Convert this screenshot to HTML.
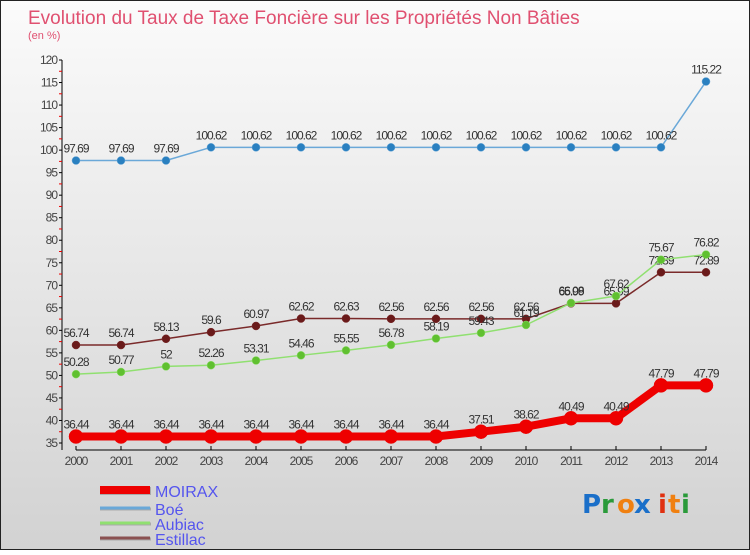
<!DOCTYPE html>
<html><head><meta charset="utf-8"><style>
body{margin:0;width:750px;height:550px;overflow:hidden;font-family:"Liberation Sans",sans-serif}
</style></head><body>
<svg id="chart" width="750" height="550" xmlns="http://www.w3.org/2000/svg">
<defs><linearGradient id="bg" x1="0" y1="0" x2="0" y2="1"><stop offset="0" stop-color="#fbfbfb"/><stop offset="1" stop-color="#d2d2d2"/></linearGradient></defs>
<rect x="0" y="0" width="750" height="550" fill="url(#bg)"/>
<rect x="0.5" y="0.5" width="749" height="549" fill="none" stroke="#222"/>
<text x="28" y="24" font-size="19" fill="#e05070">Evolution du Taux de Taxe Foncière sur les Propriétés Non Bâties</text>
<text x="28" y="39" font-size="11" fill="#e05070">(en %)</text>
<g id="axes"></g><g id="series"></g><g id="legend"></g>
<g font-size="26" font-family="'DejaVu Sans',sans-serif" font-weight="bold">
<text x="582" y="513" fill="#1a6fc9">P</text><text x="601" y="513" fill="#2a9a3a">r</text><text x="617" y="513" fill="#f08010">o</text>
<text x="634" y="513" fill="#1a6fc9">x</text><text x="658" y="513" fill="#e03010">i</text><text x="668" y="513" fill="#f08010">t</text><text x="681" y="513" fill="#2a9a3a">i</text></g>
</svg>
<script>
const years=[2000,2001,2002,2003,2004,2005,2006,2007,2008,2009,2010,2011,2012,2013,2014];
const yTicks=[35,40,45,50,55,60,65,70,75,80,85,90,95,100,105,110,115,120];
const moirax=[36.44,36.44,36.44,36.44,36.44,36.44,36.44,36.44,36.44,37.51,38.62,40.49,40.49,47.79,47.79];
const boe=[97.69,97.69,97.69,100.62,100.62,100.62,100.62,100.62,100.62,100.62,100.62,100.62,100.62,100.62,115.22];
const aubiac=[50.28,50.77,52,52.26,53.31,54.46,55.55,56.78,58.19,59.43,61.19,66.08,67.62,75.67,76.82];
const estillac=[56.74,56.74,58.13,59.6,60.97,62.62,62.63,62.56,62.56,62.56,62.56,65.99,65.99,72.89,72.89];
const NS="http://www.w3.org/2000/svg";
const x=i=>76+i*45;
const y=v=>443-(v-35)*(383/85);
function mk(t,a,p){const e=document.createElementNS(NS,t);for(const k in a)e.setAttribute(k,a[k]);p.appendChild(e);return e;}
const ax=document.getElementById('axes');
const yl=mk('line',{x1:62,y1:60,x2:62,y2:450,stroke:'#000'},ax);


const xl=mk('line',{x1:76,y1:450,x2:706,y2:450,stroke:'#000'},ax);


yTicks.forEach(v=>{
 mk('line',{x1:59,y1:y(v),x2:62,y2:y(v),stroke:'#000'},ax);
 if(v<120)mk('line',{x1:59,y1:y(v+2.5),x2:62,y2:y(v+2.5),stroke:'#e00'},ax);
 const t=mk('text',{x:57,y:y(v)+4,'font-size':12,'text-anchor':'end',fill:'#444','letter-spacing':'-1'},ax);
 t.textContent=v;
 
 
});
years.forEach((yr,i)=>{
 mk('line',{x1:x(i),y1:446,x2:x(i),y2:450,stroke:'#000'},ax);
 const t=mk('text',{x:x(i),y:465,'font-size':12,'text-anchor':'middle',fill:'#444','letter-spacing':'-1'},ax);
 t.textContent=yr;
 
 
});
const sg=document.getElementById('series');
function series(data,color,dot,w,r,name){
 const g=mk('g',{},sg);
 
 
 const pts=data.map((v,i)=>x(i)+','+y(v)).join(' ');
 mk('polyline',{points:pts,fill:'none',stroke:color,'stroke-width':w,'stroke-linejoin':'round'},g);
 data.forEach((v,i)=>{
  const c=mk('circle',{cx:x(i),cy:y(v),r:r,fill:dot,stroke:color,'stroke-width':0.5},g);
  
  
  const t=mk('text',{x:x(i),y:y(v)-8,'font-size':12,'text-anchor':'middle',fill:'#333','letter-spacing':'-1'},g);
  t.textContent=v;
  
  
 });
}
series(boe,'#6aa8d8','#2a80c0',1.5,4,'boe');
series(estillac,'#7a2a2a','#6a1a1a',1.5,4,'estillac');
series(aubiac,'#90e070','#60c030',1.5,4,'aubiac');
series(moirax,'#ee0000','#ee0000',8,7,'moirax');
const lg=document.getElementById('legend');
[['MOIRAX','#ee0000',8,490],['Boé','#6aa8d8',3,508],['Aubiac','#90e070',3,523],['Estillac','#8a5050',3,538]].forEach(([n,c,w,yy])=>{
 const g=mk('g',{},lg);
 
 
 mk('line',{x1:100,y1:yy+1,x2:151,y2:yy+1,stroke:'#aaa','stroke-width':w},g);
 mk('line',{x1:100,y1:yy,x2:150,y2:yy,stroke:c,'stroke-width':w},g);
 const t=mk('text',{x:155,y:yy+7,'font-size':16,fill:'#5555ee'},g);
 t.textContent=n;
});
</script>
</body></html>
